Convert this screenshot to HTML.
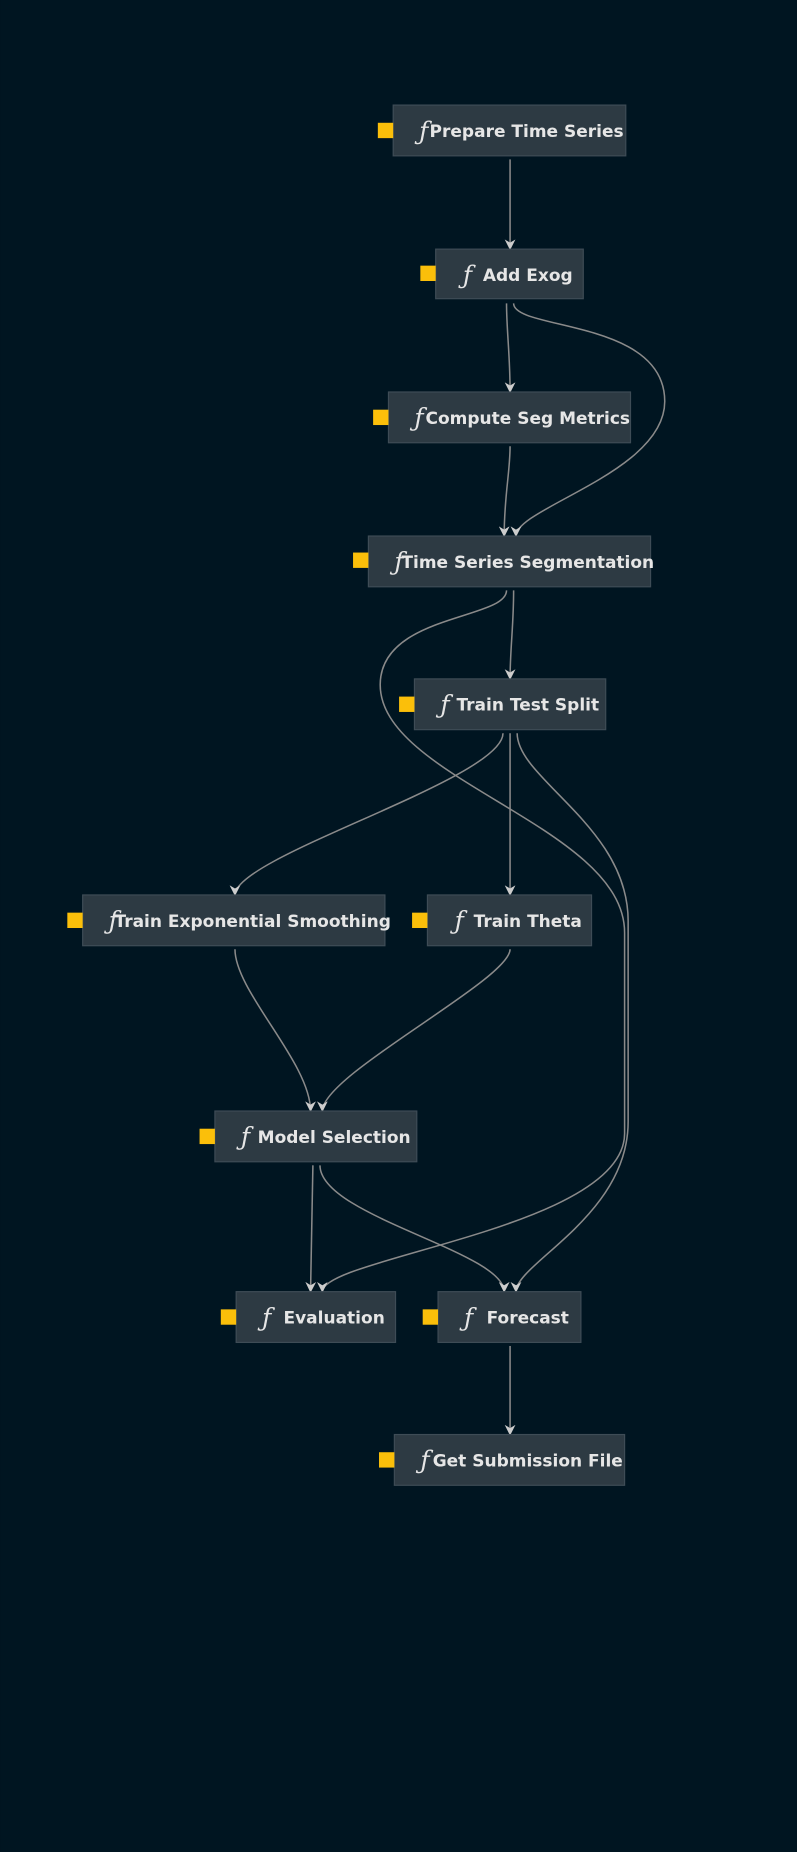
<!DOCTYPE html>
<html><head><meta charset="utf-8"><style>
html,body{margin:0;padding:0;background:#001521;}
svg{display:block;}
.lbl{font-family:"DejaVu Sans","Liberation Sans",sans-serif;font-weight:bold;font-size:14.4px;fill:#e6e6e6;}
.f{font-family:"DejaVu Serif","Liberation Serif",serif;font-style:italic;font-size:21px;fill:#e6e6e6;}
.e{fill:none;stroke:#8a8a8a;stroke-width:1.3;}
</style></head><body>
<svg width="797" height="1852" viewBox="0 0 675 1568.6" xmlns="http://www.w3.org/2000/svg">
<defs><marker id="a" viewBox="0 0 10 10" refX="9" refY="5" markerWidth="7" markerHeight="7" orient="auto"><path d="M0,0 L10,5 L0,10 L3,5 z" fill="#cccccc"/></marker></defs>
<rect width="675" height="1568.6" fill="#001521"/>
<g class="e" marker-end="url(#a)">
<path d="M432,135 L432,211"/>
<path d="M429,257 C429,280 432,300 432,332"/>
<path d="M435,257 C435,280 563,270 563,340 C563,400 437,430 437,454"/>
<path d="M432,378 C432,400 427,420 427,454"/>
<path d="M435,500 C435,530 432,550 432,575"/>
<path d="M429,500 C429,525 322,520 322,580 C322,660 529,700 529,790 L529,960 C529,1040 273,1065 273,1094"/>
<path d="M426,621 C426,660 199,725 199,758"/>
<path d="M432,621 L432,758"/>
<path d="M438,621 C438,660 532,700 532,780 L532,950 C532,1030 437,1070 437,1094"/>
<path d="M199,804 C199,840 263,900 263,941"/>
<path d="M432,804 C432,830 273,910 273,941"/>
<path d="M265,987 L263,1094"/>
<path d="M271,987 C271,1030 427,1060 427,1094"/>
<path d="M432,1140 L432,1215"/>
</g>
<g>
<rect x="333" y="89" width="197" height="43" fill="#2d3a43" stroke="#3e4c56"/><rect x="320" y="104" width="13" height="13" fill="#fbbf0a"/>
<text class="f" x="355" y="118">ƒ</text><text class="lbl" x="446" y="116" text-anchor="middle">Prepare Time Series</text>

<rect x="369" y="211" width="125" height="42" fill="#2d3a43" stroke="#3e4c56"/><rect x="356" y="225" width="13" height="13" fill="#fbbf0a"/>
<text class="f" x="392" y="240">ƒ</text><text class="lbl" x="447" y="238" text-anchor="middle">Add Exog</text>

<rect x="329" y="332" width="205" height="43" fill="#2d3a43" stroke="#3e4c56"/><rect x="316" y="347" width="13" height="13" fill="#fbbf0a"/>
<text class="f" x="351" y="361">ƒ</text><text class="lbl" x="447" y="359" text-anchor="middle">Compute Seg Metrics</text>

<rect x="312" y="454" width="239" height="43" fill="#2d3a43" stroke="#3e4c56"/><rect x="299" y="468" width="13" height="13" fill="#fbbf0a"/>
<text class="f" x="334" y="483">ƒ</text><text class="lbl" x="447" y="481" text-anchor="middle">Time Series Segmentation</text>

<rect x="351" y="575" width="162" height="43" fill="#2d3a43" stroke="#3e4c56"/><rect x="338" y="590" width="13" height="13" fill="#fbbf0a"/>
<text class="f" x="373" y="604">ƒ</text><text class="lbl" x="447" y="602" text-anchor="middle">Train Test Split</text>

<rect x="70" y="758" width="256" height="43" fill="#2d3a43" stroke="#3e4c56"/><rect x="57" y="773" width="13" height="13" fill="#fbbf0a"/>
<text class="f" x="92" y="787">ƒ</text><text class="lbl" x="214" y="785" text-anchor="middle">Train Exponential Smoothing</text>

<rect x="362" y="758" width="139" height="43" fill="#2d3a43" stroke="#3e4c56"/><rect x="349" y="773" width="13" height="13" fill="#fbbf0a"/>
<text class="f" x="385" y="787">ƒ</text><text class="lbl" x="447" y="785" text-anchor="middle">Train Theta</text>

<rect x="182" y="941" width="171" height="43" fill="#2d3a43" stroke="#3e4c56"/><rect x="169" y="956" width="13" height="13" fill="#fbbf0a"/>
<text class="f" x="204" y="970">ƒ</text><text class="lbl" x="283" y="968" text-anchor="middle">Model Selection</text>

<rect x="200" y="1094" width="135" height="43" fill="#2d3a43" stroke="#3e4c56"/><rect x="187" y="1109" width="13" height="13" fill="#fbbf0a"/>
<text class="f" x="222" y="1123">ƒ</text><text class="lbl" x="283" y="1121" text-anchor="middle">Evaluation</text>

<rect x="371" y="1094" width="121" height="43" fill="#2d3a43" stroke="#3e4c56"/><rect x="358" y="1109" width="13" height="13" fill="#fbbf0a"/>
<text class="f" x="393" y="1123">ƒ</text><text class="lbl" x="447" y="1121" text-anchor="middle">Forecast</text>

<rect x="334" y="1215" width="195" height="43" fill="#2d3a43" stroke="#3e4c56"/><rect x="321" y="1230" width="13" height="13" fill="#fbbf0a"/>
<text class="f" x="356" y="1244">ƒ</text><text class="lbl" x="447" y="1242" text-anchor="middle">Get Submission File</text>
</g>
</svg>
</body></html>
